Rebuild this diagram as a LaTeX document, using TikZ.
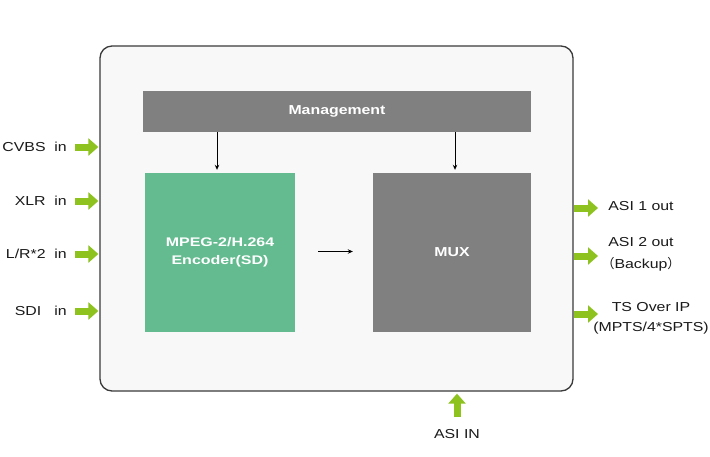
\documentclass[tikz,border=0pt]{standalone}
\usepackage{fontspec}
\setmainfont{Liberation Sans}[FakeStretch=1.22]
\newfontfamily\encfont{Liberation Sans}[FakeStretch=1.28]
\newfontfamily\cjkfont{Noto Sans CJK SC}
\usetikzlibrary{arrows.meta}
\definecolor{arrgreen}{HTML}{8DC21F}
\definecolor{encgreen}{HTML}{63BB8F}
\definecolor{blockgray}{HTML}{808080}
\definecolor{framebg}{HTML}{F8F8F8}
\definecolor{frameline}{HTML}{3A3A3A}
\definecolor{txt}{HTML}{1A1A1A}
\tikzset{
  frame/.style={draw=frameline, fill=framebg, line width=1.3pt, rounded corners=12pt},
  block/.style={fill=blockgray, text=white, font=\bfseries\fontsize{13}{16}\selectfont, align=center, inner sep=0pt},
  encblock/.style={block, fill=encgreen},
  lbl/.style={text=txt, font=\fontsize{13}{16}\selectfont, align=center, inner sep=0pt},
  garrow/.style={draw=arrgreen, line width=7pt, -{Triangle[length=10pt,width=17pt]}},
  karrow/.style={draw=black, line width=1pt, -{Stealth[length=5pt,width=4.5pt]}}
}
\begin{document}
\begin{tikzpicture}[x=1pt,y=-1pt]
\useasboundingbox (0,0) rectangle (710,456);
\fill[white] (0,0) rectangle (710,456);

\node[frame, minimum width=473pt, minimum height=345pt] (frame) at (336.5,218.5) {};
\node[block, minimum width=388pt, minimum height=41pt] (mgmt) at (337,111.5) {Management};
\node[encblock, minimum width=150pt, minimum height=159pt, font=\encfont\bfseries\fontsize{12.5}{18}\selectfont] (enc) at (220,252.5) {MPEG-2/H.264\\Encoder(SD)};
\node[block, minimum width=158pt, minimum height=159pt] (mux) at (452,252.5) {MUX};

\draw[karrow] ([xshift=-3pt]mgmt.south -| enc.north) -- ([xshift=-3pt,yshift=3pt]enc.north);
\draw[karrow] ([xshift=3pt]mgmt.south -| mux.north) -- ([xshift=3pt,yshift=3pt]mux.north);
\draw[karrow] ([xshift=23pt,yshift=1pt]enc.east) -- ([xshift=-20pt,yshift=1pt]mux.west);

% inputs
\node[lbl, anchor=east] (cvbs) at (67,147) {CVBS~ in};
\node[lbl, anchor=east] (xlr) at (67,201) {XLR~ in};
\node[lbl, anchor=east] (lr) at (67,254) {L/R*2~ in};
\node[lbl, anchor=east] (sdi) at (67,311) {SDI~~ in};
\foreach \n in {cvbs,xlr,lr,sdi}
  \draw[garrow, shorten >=1pt] ([xshift=8pt]\n.east) -- (\n.east -| frame.west);

% outputs
\node[lbl] (asi1) at (641,206) {ASI 1 out};
\node[lbl] (asi2) at (641,254) {ASI 2 out\\[6pt]{\cjkfont （}Backup{\cjkfont ）}};
\node[lbl] (ts) at (651,318) {TS Over IP\\[4pt](MPTS/4*SPTS)};
\coordinate (o1) at (598,208);
\coordinate (o2) at (598,256);
\coordinate (o3) at (598,314);
\foreach \c in {o1,o2,o3}
  \draw[garrow] (frame.east |- \c) -- (\c);

% bottom input
\node[lbl] (asiin) at (457,434) {ASI IN};
\coordinate (i1) at (457,417);
\draw[garrow] (i1) -- ([yshift=-2pt]i1 |- frame.south);
\end{tikzpicture}
\end{document}
